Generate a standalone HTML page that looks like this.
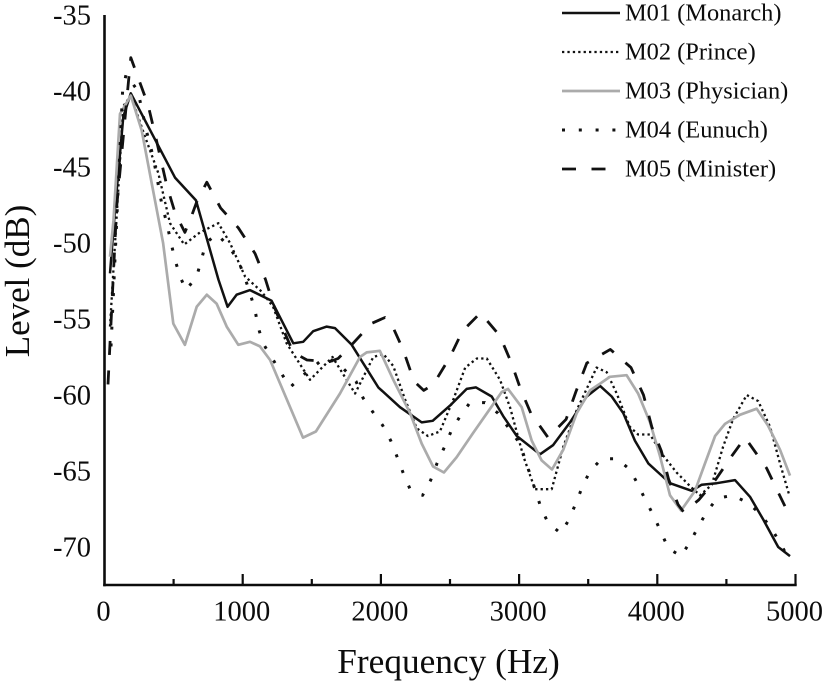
<!DOCTYPE html>
<html lang="en">
<head>
<meta charset="utf-8">
<title>Level vs Frequency</title>
<style>
html,body{margin:0;padding:0;background:#fff;width:827px;height:686px;overflow:hidden}
svg{display:block}
text{font-family:"Liberation Serif",serif;fill:#0c0c0c}
</style>
</head>
<body>
<svg id="chart" width="827" height="686" viewBox="0 0 827 686" xmlns="http://www.w3.org/2000/svg">
<text x="448.5" y="673" font-size="35.3" text-anchor="middle">Frequency (Hz)</text>
<text transform="translate(29,281) rotate(-90)" font-size="35" text-anchor="middle">Level (dB)</text>
</svg>
<script>
const xTicks = [0, 1000, 2000, 3000, 4000, 5000];
const xMinorTicks = [500, 1500, 2500, 3500, 4500];
const yTicks = [-35, -40, -45, -50, -55, -60, -65, -70];

const m01Freq = [40,76,136,190,510,662,824,891,956,1053,1209,1366,1438,1510,1608,1668,1789,1981,2138,2295,2375,2500,2621,2688,2802,2886,2983,3151,3245,3368,3489,3586,3670,3754,3838,3935,4019,4092,4249,4321,4430,4562,4671,4767,4875,4960];
const m01Level = [-52,-47.8,-41.7,-40.15,-45.7,-47.2,-52.4,-54.2,-53.4,-53.1,-53.8,-56.6,-56.5,-55.8,-55.5,-55.6,-56.7,-59.5,-60.8,-61.8,-61.7,-60.7,-59.6,-59.5,-60.1,-61.4,-62.7,-63.9,-63.3,-61.8,-60.1,-59.4,-60.1,-61.2,-63,-64.5,-65.2,-65.8,-66.3,-65.9,-65.8,-65.6,-66.7,-68.2,-70,-70.6];

const m02Freq = [40,136,190,293,389,474,577,691,824,908,1017,1137,1220,1318,1487,1650,1813,1945,2018,2090,2175,2260,2340,2427,2524,2610,2694,2766,2862,2934,3030,3115,3236,3320,3417,3561,3634,3706,3802,3861,3947,4044,4140,4237,4309,4394,4476,4548,4647,4730,4816,4888,4955];
const m02Level = [-55.5,-41,-40.3,-43,-45.4,-48.7,-50.1,-49.3,-48.7,-50,-52.2,-53.2,-54.2,-56.6,-59,-57.5,-59.9,-57.5,-57.3,-58.1,-60.3,-62.2,-62.7,-62.4,-60.3,-58.2,-57.6,-57.6,-59,-60.8,-64,-66.2,-66.2,-63.4,-61,-58.2,-58.5,-59.9,-62.1,-62.6,-62.6,-64,-65.1,-66,-66.6,-65.9,-63.4,-61.6,-60,-60.4,-62.1,-64.5,-66.6];

const m03Freq = [40,65,112,190,269,342,424,498,582,667,740,812,884,968,1053,1125,1198,1436,1530,1704,1849,1897,1993,2090,2211,2295,2377,2456,2548,2667,2790,2874,2920,3019,3091,3163,3238,3320,3417,3513,3586,3658,3778,3861,3947,4019,4092,4172,4273,4345,4418,4490,4598,4719,4800,4888,4960];
const m03Level = [-50.9,-48.5,-41.5,-40.3,-42.6,-46.1,-50,-55.3,-56.7,-54.2,-53.4,-54,-55.5,-56.7,-56.5,-56.8,-57.7,-62.8,-62.4,-59.9,-57.5,-57.2,-57.1,-59,-61.2,-63.2,-64.7,-65.1,-64.1,-62.5,-60.9,-59.8,-59.6,-60.8,-63,-64.3,-64.9,-63.6,-61.2,-59.7,-59.25,-58.8,-58.7,-59.9,-61.8,-64,-66.6,-67.6,-66.3,-64.5,-62.7,-61.9,-61.3,-60.9,-62,-63.6,-65.3];

const m04Freq = [47,131,156,242,305,352,414,454,479,510,546,590,667,698,734,814,894,966,1017,1053,1089,1111,1147,1342,1450,1600,1700,1820,1871,1940,2013,2071,2114,2160,2211,2302,2360,2406,2456,2507,2572,2645,2753,2847,3006,3122,3158,3209,3301,3361,3412,3455,3513,3598,3709,3802,3861,3919,3977,4025,4081,4172,4242,4295,4357,4433,4545,4657,4743,4828,4886,4947];
const m04Level = [-56.8,-40,-38.9,-40,-42.7,-44.3,-47.4,-48.8,-49.9,-51.1,-52.2,-53.1,-52.2,-51.2,-50,-49.4,-50.2,-51.1,-52.3,-53.3,-54.4,-55.5,-56.6,-59.5,-58.6,-57.5,-58,-59.1,-60.2,-61.1,-62,-63,-64,-65.1,-66.2,-66.6,-65.6,-64.5,-63.5,-62.4,-61.4,-60.5,-60.5,-61.2,-63.2,-66.4,-67.4,-68.4,-69.1,-68.2,-67.1,-66.1,-65,-64.2,-64.2,-64.9,-65.9,-67,-68,-69,-70.1,-70.6,-69.6,-68.7,-67.7,-66.8,-66.6,-67.1,-67.8,-68.8,-69.7,-70.7];

const m05Freq = [25,88,172,190,250,315,370,450,510,582,631,667,740,840,968,1090,1165,1220,1294,1366,1465,1630,1690,1789,1930,2030,2070,2160,2240,2310,2380,2500,2590,2720,2860,2945,3010,3085,3210,3340,3410,3490,3660,3810,3900,3960,4030,4080,4150,4190,4300,4420,4540,4635,4790,4880,4950];
const m05Level = [-59.3,-47.6,-39.5,-37.8,-39.3,-40.9,-43,-46.2,-48,-49.3,-48.2,-47.3,-46,-47.7,-49,-50.7,-52.4,-54,-55.7,-57.2,-57.7,-57.8,-57.6,-56.7,-55.3,-54.9,-55.2,-57,-59.1,-59.7,-59.3,-57.5,-55.8,-54.6,-56.1,-57.9,-59.6,-61.2,-62.8,-61.6,-59.8,-57.9,-57,-58.2,-60,-62.1,-63.7,-65.5,-67.2,-67.7,-66.9,-65.6,-64,-62.8,-64.8,-66.5,-67.8];

const legendLabels = ["M01 (Monarch)", "M02 (Prince)", "M03 (Physician)", "M04 (Eunuch)", "M05 (Minister)"];

const NS = "http://www.w3.org/2000/svg";
const svg = document.getElementById("chart");
const xScale = f => 104.5 + f * 0.1382;
const yScale = v => 15 + (-35 - v) * 15.2;
const AXIS_BOTTOM = 585;

function make(tag, attrs, text) {
  const el = document.createElementNS(NS, tag);
  for (const k in attrs) el.setAttribute(k, attrs[k]);
  if (text !== undefined) el.textContent = text;
  svg.appendChild(el);
  return el;
}

const styles = [
  {stroke:"#111", width:2.5, dash:""},
  {stroke:"#111", width:2.3, dash:"2.3 3.1"},
  {stroke:"#ababab", width:2.7, dash:""},
  {stroke:"#111", width:3, dash:"3 13.8"},
  {stroke:"#111", width:2.8, dash:"14 15.5"}
];
const seriesFreq = [m01Freq, m02Freq, m03Freq, m04Freq, m05Freq];
const seriesLevel = [m01Level, m02Level, m03Level, m04Level, m05Level];
const seriesKeys = ["m01", "m02", "m03", "m04", "m05"];

seriesKeys.forEach((key, i) => {
  const d = seriesFreq[i].map((f, j) => (j ? "L" : "M") + xScale(f).toFixed(1) + " " + yScale(seriesLevel[i][j]).toFixed(1)).join("");
  const p = make("path", {d: d, fill: "none", stroke: styles[i].stroke, "stroke-width": styles[i].width, "stroke-dasharray": styles[i].dash, "stroke-linejoin": "round"});
  
  
});

const yAxis = make("line", {x1: 104.5, x2: 104.5, y1: 15, y2: AXIS_BOTTOM + 1.2, stroke: "#0c0c0c", "stroke-width": 2.6});


const xAxis = make("line", {x1: 103.2, x2: xScale(5000) + 1.2, y1: AXIS_BOTTOM, y2: AXIS_BOTTOM, stroke: "#0c0c0c", "stroke-width": 2.4});



xMinorTicks.forEach(f => {
  const t = make("line", {x1: xScale(f), x2: xScale(f), y1: AXIS_BOTTOM - 6, y2: AXIS_BOTTOM, stroke: "#0c0c0c", "stroke-width": 2.2});
  
  
});
xTicks.forEach(f => {
  if (f > 0) {
    const t = make("line", {x1: xScale(f), x2: xScale(f), y1: AXIS_BOTTOM - 11, y2: AXIS_BOTTOM, stroke: "#0c0c0c", "stroke-width": 2.2});
    
    
  }
  const l = make("text", {x: xScale(f) - 1, y: 620.5, "font-size": 28.5, "text-anchor": "middle"}, String(f));
  
  
});
yTicks.forEach(v => {
  const l = make("text", {x: 91, y: yScale(v) + 9.5, "font-size": 28.5, "text-anchor": "end"}, String(v));
  
  
});

legendLabels.forEach((label, i) => {
  const y = 13 + i * 39;
  const s = styles[i];
  const sample = make("line", {x1: 562, x2: 620, y1: y, y2: y, stroke: s.stroke, "stroke-width": s.width, "stroke-dasharray": s.dash});
  
  
  const t = make("text", {x: 625, y: y + 7.5, "font-size": 24.4}, label);
  
  
});
</script>
</body>
</html>
